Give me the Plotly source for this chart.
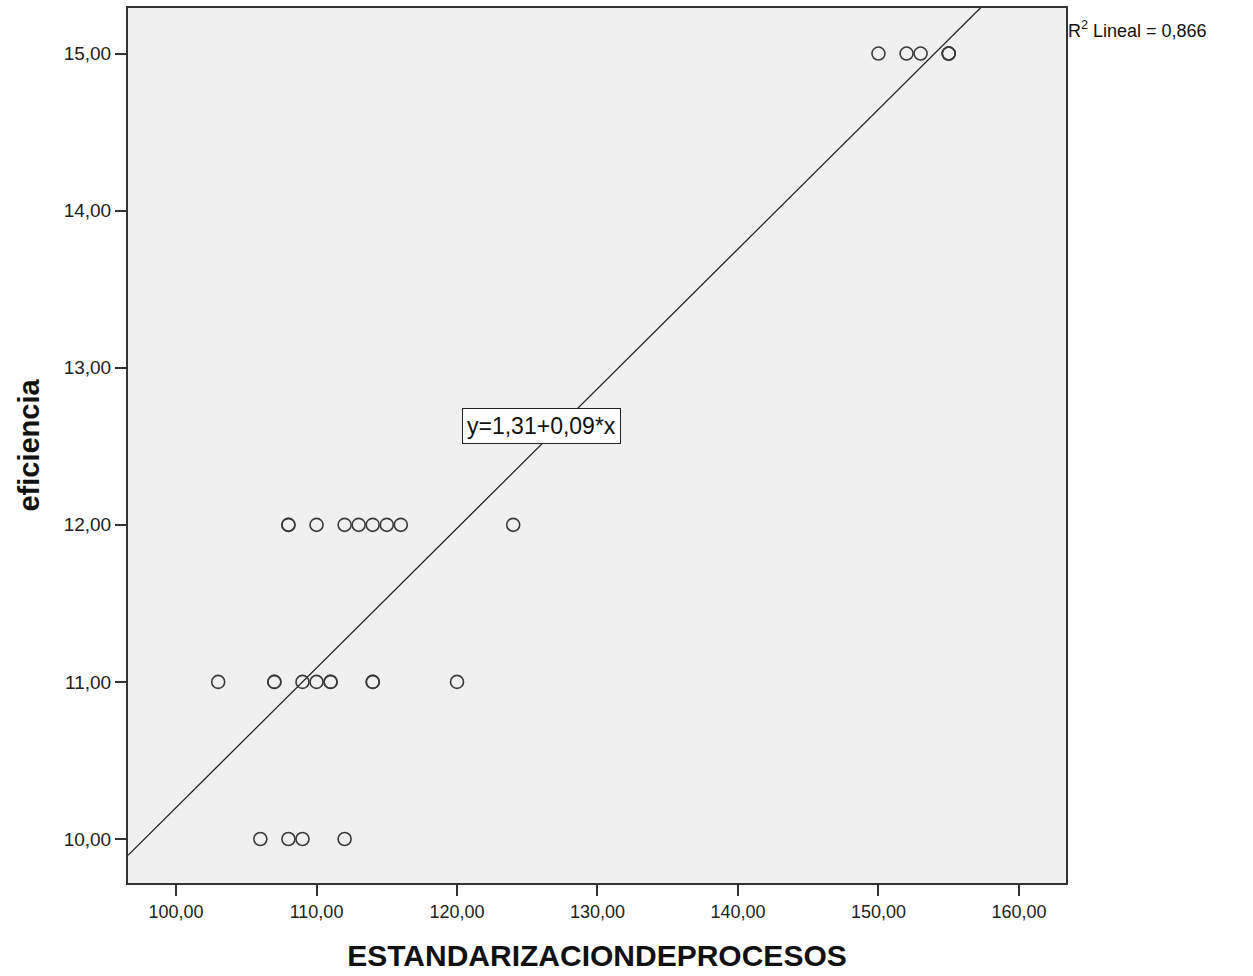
import plotly.graph_objects as go

# Data (duplicates appear as bolder circles)
x_vals = [150, 152, 153, 155, 155, 155,
          108, 108, 110, 112, 113, 114, 115, 116, 124,
          103, 107, 107, 109, 110, 111, 111, 114, 114, 120,
          106, 108, 109, 112]
y_vals = [15, 15, 15, 15, 15, 15,
          12, 12, 12, 12, 12, 12, 12, 12, 12,
          11, 11, 11, 11, 11, 11, 11, 11, 11, 11,
          10, 10, 10, 10]

intercept = 1.31
slope = 0.0889

x_tick_vals = [100, 110, 120, 130, 140, 150, 160]
x_tick_text = ["100,00", "110,00", "120,00", "130,00", "140,00", "150,00", "160,00"]
y_tick_vals = [10, 11, 12, 13, 14, 15]
y_tick_text = ["10,00", "11,00", "12,00", "13,00", "14,00", "15,00"]

x_range = [96.58, 163.35]
y_range = [9.72, 15.29]

FONT = "Liberation Sans, Arial"

fig = go.Figure()

fig.add_trace(go.Scatter(
    x=x_range,
    y=[intercept + slope * v for v in x_range],
    mode="lines",
    line=dict(color="#222222", width=1.3),
    hoverinfo="skip",
))

fig.add_trace(go.Scatter(
    x=x_vals, y=y_vals, mode="markers",
    marker=dict(symbol="circle-open", size=13, color="#3a3a3a",
                line=dict(width=1.6, color="#3a3a3a")),
))

fig.add_annotation(
    x=126.0, y=12.63, xref="x", yref="y",
    text="y=1,31+0,09*x", showarrow=False,
    font=dict(family=FONT, size=23, color="#111111"),
    bgcolor="white", bordercolor="#222222", borderwidth=1, borderpad=4,
)

fig.add_annotation(
    x=1.0, y=1 - (28 - 6) / 877, xref="paper", yref="paper",
    text="R<sup>2</sup> Lineal = 0,866", showarrow=False,
    xanchor="left", yanchor="middle",
    font=dict(family=FONT, size=18, color="#111111"),
)

fig.update_layout(
    width=1253, height=976,
    margin=dict(l=128, r=187, t=6, b=93),
    paper_bgcolor="white",
    plot_bgcolor="#f0f0f0",
    showlegend=False,
    font=dict(family=FONT, size=18, color="#222222"),
)

fig.update_xaxes(
    range=x_range, tickvals=x_tick_vals, ticktext=x_tick_text,
    showgrid=False, zeroline=False,
    ticks="outside", ticklen=11, tickwidth=1.5, tickcolor="#333333",
    showline=True, linecolor="#333333", linewidth=2, mirror=True,
    title=dict(text="<b>ESTANDARIZACIONDEPROCESOS</b>",
               font=dict(family=FONT, size=30, color="#111111"),
               standoff=24),
    tickfont=dict(size=18),
)
fig.update_yaxes(
    range=y_range, tickvals=y_tick_vals, ticktext=y_tick_text,
    showgrid=False, zeroline=False,
    ticks="outside", ticklen=11, tickwidth=1.5, tickcolor="#333333",
    showline=True, linecolor="#333333", linewidth=2, mirror=True,
    title=dict(text="<b>eficiencia</b>",
               font=dict(family=FONT, size=29, color="#111111"),
               standoff=16),
    tickfont=dict(size=19),
)

fig.write_html("out.html")
